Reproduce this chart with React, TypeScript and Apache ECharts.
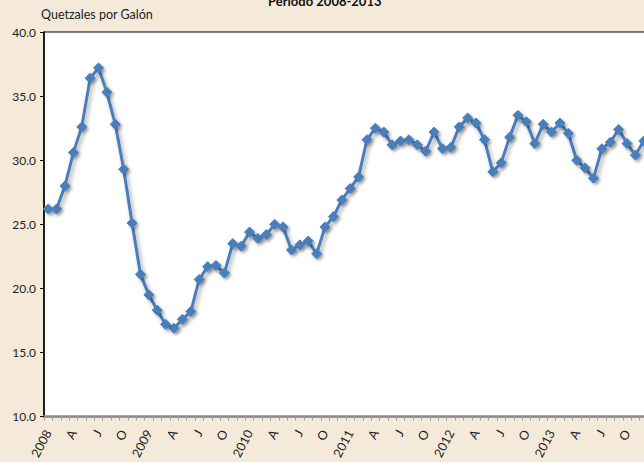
import React, { useEffect, useRef } from "react";
import * as echarts from "echarts";

const years = ["2008", "2009", "2010", "2011", "2012", "2013"];
const quarterLetters = ["", "", "", "A", "", "", "J", "", "", "O", "", ""];

const v2008 = [26.2, 26.2, 28.0, 30.6, 32.6, 36.4, 37.2, 35.3, 32.8, 29.3, 25.1, 21.1];
const v2009 = [19.5, 18.3, 17.2, 16.9, 17.6, 18.2, 20.7, 21.7, 21.8, 21.2, 23.5, 23.3];
const v2010 = [24.4, 23.9, 24.2, 25.0, 24.8, 23.0, 23.4, 23.7, 22.7, 24.8, 25.6, 26.9];
const v2011 = [27.8, 28.7, 31.6, 32.5, 32.2, 31.2, 31.5, 31.6, 31.2, 30.7, 32.2, 30.9];
const v2012 = [31.0, 32.6, 33.3, 32.9, 31.6, 29.1, 29.8, 31.8, 33.5, 33.0, 31.3, 32.8];
const v2013 = [32.2, 32.9, 32.1, 30.0, 29.4, 28.6, 30.9, 31.4, 32.4, 31.3, 30.4, 31.5];

const yTicks = { min: 10, max: 40, interval: 5 };
const titleText = "Período 2008-2013";
const yAxisTitle = "Quetzales por Galón";

const categories: string[] = [];
years.forEach((y) => {
  quarterLetters.forEach((l, i) => categories.push(i === 0 ? y : l));
});
const values = [...v2008, ...v2009, ...v2010, ...v2011, ...v2012, ...v2013];

const FONT = "Lato, 'Noto Sans', sans-serif";

export default function App() {
  const ref = useRef<HTMLDivElement>(null);
  useEffect(() => {
    if (!ref.current) return;
    const chart = echarts.init(ref.current, null, { renderer: "svg" });
    chart.setOption({
      animation: false,
      backgroundColor: "#F5EADA",
      textStyle: { fontFamily: FONT },
      title: {
        text: titleText,
        left: 263,
        top: 9,
        textStyle: { fontSize: 13, fontWeight: "bold", color: "#111", fontFamily: FONT },
      },
      graphic: [
        {
          type: "text",
          left: 41,
          top: 28,
          style: { text: yAxisTitle, fontSize: 12.5, fill: "#222", fontFamily: FONT },
        },
      ],
      grid: {
        left: 44,
        right: 52,
        top: 52,
        bottom: 45,
        show: true,
        backgroundColor: "#ffffff",
        borderColor: "#000",
        borderWidth: 1,
      },
      xAxis: {
        type: "category",
        data: categories,
        boundaryGap: true,
        axisLine: { lineStyle: { color: "#8c8c8c", width: 2.5 } },
        axisTick: { show: true, interval: 0, length: 4, lineStyle: { color: "#a0a0a0", width: 1 } },
        axisLabel: {
          interval: 2,
          rotate: 62,
          fontSize: 12.5,
          color: "#222",
          margin: 14,
          fontFamily: FONT,
        },
        splitLine: { show: false },
      },
      yAxis: {
        type: "value",
        min: yTicks.min,
        max: yTicks.max,
        interval: yTicks.interval,
        axisLine: { show: true, lineStyle: { color: "#000", width: 1.5 } },
        axisTick: { show: true, length: 4, lineStyle: { color: "#000" } },
        axisLabel: {
          fontSize: 12,
          color: "#222",
          margin: 8,
          fontFamily: FONT,
          formatter: (v: number) => v.toFixed(1),
        },
        splitLine: { show: false },
      },
      series: [
        {
          type: "line",
          data: values,
          symbol: "diamond",
          symbolSize: 10,
          showAllSymbol: true,
          lineStyle: {
            color: "#4A7EBB",
            width: 3,
            shadowColor: "rgba(0,0,0,0.35)",
            shadowBlur: 4,
            shadowOffsetX: 2,
            shadowOffsetY: 3,
          },
          itemStyle: {
            color: "#4A7EBB",
            borderColor: "#4A7EBB",
            shadowColor: "rgba(0,0,0,0.3)",
            shadowBlur: 3,
            shadowOffsetX: 2,
            shadowOffsetY: 2,
          },
        },
      ],
    });
    return () => chart.dispose();
  }, []);
  return (
    <div
      ref={ref}
      style={{ position: "fixed", left: 0, top: -20, width: 700, height: 482 }}
    />
  );
}
